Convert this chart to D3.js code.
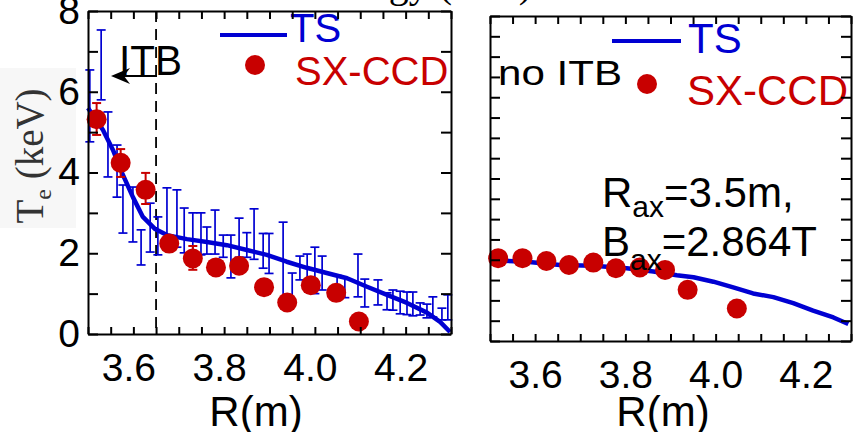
<!DOCTYPE html>
<html><head><meta charset="utf-8">
<script src="https://cdn.jsdelivr.net/npm/d3@7"></script>
<style>
html,body{margin:0;padding:0;background:#fff;}
svg{display:block;}
text{font-family:"Liberation Sans",Arial,sans-serif;}
</style></head>
<body><svg id="c" width="853" height="432"></svg>
<script>
// ---------- data ----------
const xTickLabels = [3.6, 3.8, 4.0, 4.2];
const leftYTickLabels = [0, 2, 4, 6, 8];

// left panel (ITB): TS profile
const leftTsR  = [3.500,3.533,3.555,3.575,3.599,3.621,3.648,3.674,3.718,3.762,3.806,3.850,3.894,3.938,3.982,4.026,4.071,4.115,4.159,4.203,4.247,4.276,4.298];
const leftTsTe = [5.60,5.05,4.56,3.99,3.39,2.90,2.60,2.45,2.35,2.28,2.20,2.08,1.96,1.79,1.64,1.51,1.38,1.17,0.97,0.77,0.53,0.30,0.05];
// left panel: TS error bars
const leftTsErrR  = [3.504,3.529,3.544,3.564,3.577,3.599,3.617,3.637,3.654,3.674,3.696,3.712,3.731,3.749,3.762,3.780,3.798,3.815,3.833,3.850,3.866,3.886,3.899,3.930,3.950,3.967,3.983,4.000,4.016,4.049,4.066,4.095,4.110,4.139,4.159,4.172,4.188,4.203,4.216,4.232,4.247,4.260,4.280,4.293];
const leftTsErrHi = [6.54,7.53,5.50,4.68,3.69,3.64,2.58,3.24,2.90,3.62,3.57,3.12,3.00,3.00,2.65,3.07,2.45,2.45,2.87,2.51,3.10,2.49,2.49,2.77,1.51,1.93,1.98,2.15,1.93,1.45,1.39,1.98,1.36,1.34,1.02,1.09,1.06,1.04,1.04,0.77,0.74,0.92,0.64,0.97];
const leftTsErrLo = [4.76,5.80,3.89,3.39,2.50,2.28,1.71,2.03,1.96,2.13,2.15,2.01,1.78,1.96,1.98,1.98,1.90,1.39,1.90,1.90,1.85,1.63,1.50,0.77,0.77,1.34,1.26,1.00,1.09,1.09,0.90,0.92,0.67,0.72,0.60,0.59,0.50,0.48,0.45,0.47,0.40,0.42,0.35,0.35];
// left panel: SX-CCD
const leftSxR  = [3.519,3.572,3.627,3.679,3.731,3.782,3.833,3.888,3.939,3.991,4.047,4.097];
const leftSxTe = [5.32,4.24,3.57,2.24,1.87,1.65,1.69,1.16,0.78,1.21,1.02,0.31];
const leftSxErrR  = [3.519,3.572,3.627,3.731];
const leftSxErrHi = [5.72,4.58,3.99,2.18];
const leftSxErrLo = [4.93,3.89,3.22,1.59];

// right panel (no ITB)
const rightTsR  = [3.500,3.581,3.655,3.729,3.803,3.862,3.914,3.951,3.995,4.039,4.083,4.128,4.172,4.216,4.261,4.294];
const rightTsTe = [1.99,1.95,1.87,1.85,1.79,1.71,1.62,1.57,1.46,1.32,1.17,1.08,0.93,0.75,0.58,0.42];
const rightSxR  = [3.518,3.572,3.625,3.675,3.729,3.779,3.832,3.888,3.938,4.047];
const rightSxTe = [2.04,2.04,1.97,1.87,1.93,1.79,1.81,1.75,1.26,0.80];

const BLUE = "#0000d2", RED = "#c80000";

// ---------- drawing ----------
const svg = d3.select("#c");
const minorX = d3.range(0, 17).map(i => +(3.5 + i * 0.05).toFixed(2));

// top cut-off title fragment
svg.append("text").attr("x", 532).attr("y", -3).attr("text-anchor", "end")
  .style("font-family", "'Liberation Serif','Times New Roman',serif").style("font-size", "40px")
  .text("Energy (keV)");

function panel(xs, ys, yMinor, yLabels, labelDx) {
  const [x0, x1] = xs.range(), [y0, y1] = ys.range();
  const g = svg.append("g");
  const style = s => s.selectAll("path,line").attr("stroke", "#000").attr("stroke-width", 2);
  g.append("g").attr("transform", `translate(0,${y0})`)
    .call(d3.axisBottom(xs).tickValues(minorX).tickSize(-7).tickSizeOuter(0).tickFormat("")).call(style);
  g.append("g").attr("transform", `translate(0,${y1})`)
    .call(d3.axisTop(xs).tickValues(minorX).tickSize(-8).tickSizeOuter(0).tickFormat("")).call(style);
  g.append("g").attr("transform", `translate(${x0},0)`)
    .call(d3.axisLeft(ys).tickValues(yMinor).tickSize(-10).tickSizeOuter(0).tickFormat("")).call(style);
  g.append("g").attr("transform", `translate(${x1},0)`)
    .call(d3.axisRight(ys).tickValues(yMinor).tickSize(-10).tickSizeOuter(0).tickFormat("")).call(style);
  // x labels
  const xl = g.append("g").attr("transform", `translate(0,${y0})`)
    .call(d3.axisBottom(xs).tickValues(xTickLabels).tickSize(0).tickPadding(19).tickFormat(d3.format(".1f")));
  xl.select(".domain").remove();
  xl.selectAll("text").style("font-size", "39px").attr("fill", "#000").attr("dx", labelDx)
    .style("font-family", "'Liberation Sans',Arial,sans-serif");
  if (yLabels) {
    const yl = g.append("g").attr("transform", `translate(${x0},0)`)
      .call(d3.axisLeft(ys).tickValues(yLabels).tickSize(0).tickPadding(8).tickFormat(d3.format("d")));
    yl.select(".domain").remove();
    yl.selectAll("text").style("font-size", "39px").attr("fill", "#000")
      .style("font-family", "'Liberation Sans',Arial,sans-serif");
  }
  return g;
}

// ---------- left panel ----------
const xL = d3.scaleLinear().domain([3.5, 4.3]).range([88, 451]);
const yL = d3.scaleLinear().domain([0, 8]).range([334, 11]);

// y-label background (faint)
svg.append("rect").attr("x", 0).attr("y", 68).attr("width", 76).attr("height", 160).attr("fill", "#f7f7f7");
const ylab = svg.append("text").attr("transform", "translate(43,156) rotate(-90)")
  .attr("text-anchor", "middle").attr("fill", "#333")
  .style("font-family", "'Liberation Serif','Times New Roman',serif").style("font-size", "39px");
ylab.append("tspan").text("T");
ylab.append("tspan").attr("dy", 8).style("font-size", "24px").text("e");
ylab.append("tspan").attr("dy", -8).text(" (keV)");

const gl = svg.append("g");
// ITB dashed boundary
gl.append("line").attr("x1", xL(3.65)).attr("x2", xL(3.65)).attr("y1", yL(8)).attr("y2", yL(0))
  .attr("stroke", "#000").attr("stroke-width", 1.8).attr("stroke-dasharray", "11,7");

// TS error bars
const tsErr = leftTsErrR.map((r, i) => ({ r, hi: leftTsErrHi[i], lo: leftTsErrLo[i] }));
function errBars(g, data, xs, ys, color, cap, w) {
  const e = g.append("g").attr("stroke", color).attr("stroke-width", w);
  e.selectAll(".v").data(data).join("line")
    .attr("x1", d => xs(d.r)).attr("x2", d => xs(d.r)).attr("y1", d => ys(d.hi)).attr("y2", d => ys(d.lo));
  e.selectAll(".t").data(data).join("line")
    .attr("x1", d => xs(d.r) - cap).attr("x2", d => xs(d.r) + cap).attr("y1", d => ys(d.hi)).attr("y2", d => ys(d.hi));
  e.selectAll(".b").data(data).join("line")
    .attr("x1", d => xs(d.r) - cap).attr("x2", d => xs(d.r) + cap).attr("y1", d => ys(d.lo)).attr("y2", d => ys(d.lo));
}
errBars(gl, tsErr, xL, yL, BLUE, 4.5, 1.7);

// TS line
const lineL = d3.line().x(d => xL(d[0])).y(d => yL(d[1])).curve(d3.curveLinear);
gl.append("path").datum(leftTsR.map((r, i) => [r, leftTsTe[i]])).attr("d", lineL)
  .attr("fill", "none").attr("stroke", BLUE).attr("stroke-width", 4.5).attr("stroke-linejoin", "round");

// SX-CCD error bars + points
errBars(gl, leftSxErrR.map((r, i) => ({ r, hi: leftSxErrHi[i], lo: leftSxErrLo[i] })), xL, yL, RED, 4.5, 2);
gl.selectAll("circle").data(leftSxR.map((r, i) => [r, leftSxTe[i]])).join("circle")
  .attr("cx", d => xL(d[0])).attr("cy", d => yL(d[1])).attr("r", 10).attr("fill", RED);

panel(xL, yL, d3.range(0, 9), leftYTickLabels, -5);

// left legend
gl.append("line").attr("x1", 220).attr("x2", 287).attr("y1", 35).attr("y2", 35).attr("stroke", BLUE).attr("stroke-width", 4);
gl.append("text").attr("x", 290).attr("y", 42).attr("fill", BLUE).style("font-size", "40px").text("TS");
gl.append("circle").attr("cx", 255).attr("cy", 65).attr("r", 10).attr("fill", RED);
gl.append("text").attr("x", 295).attr("y", 85).attr("fill", RED).style("font-size", "40px").text("SX-CCD");
// ITB annotation
gl.append("text").attr("x", 119).attr("y", 75).attr("fill", "#000").style("font-size", "42px")
  .attr("textLength", 63).attr("lengthAdjust", "spacingAndGlyphs").text("ITB");
gl.append("line").attr("x1", 157).attr("x2", 114).attr("y1", 76).attr("y2", 76).attr("stroke", "#000").attr("stroke-width", 2);
gl.append("path").attr("d", "M111,76 L130,68 L124,76 L130,84 Z").attr("fill", "#000");

// x title
svg.append("text").attr("x", 256).attr("y", 426).attr("text-anchor", "middle").style("font-size", "42px").text("R(m)");

// ---------- right panel ----------
const xR = d3.scaleLinear().domain([3.5, 4.3]).range([490, 851]);
const yR = d3.scaleLinear().domain([0, 8]).range([341, 16]);
const gr = svg.append("g");
const lineR = d3.line().x(d => xR(d[0])).y(d => yR(d[1]));
gr.append("path").datum(rightTsR.map((r, i) => [r, rightTsTe[i]])).attr("d", lineR)
  .attr("fill", "none").attr("stroke", BLUE).attr("stroke-width", 4.5).attr("stroke-linejoin", "round");
gr.selectAll("circle").data(rightSxR.map((r, i) => [r, rightSxTe[i]])).join("circle")
  .attr("cx", d => xR(d[0])).attr("cy", d => yR(d[1])).attr("r", 10).attr("fill", RED);

panel(xR, yR, d3.range(0, 17).map(i => i * 0.5), null, 0);

// right legend
gr.append("line").attr("x1", 612).attr("x2", 681).attr("y1", 41).attr("y2", 41).attr("stroke", BLUE).attr("stroke-width", 4);
gr.append("text").attr("x", 688).attr("y", 53).attr("fill", BLUE).style("font-size", "42px").text("TS");
gr.append("circle").attr("cx", 647).attr("cy", 84).attr("r", 10).attr("fill", RED);
gr.append("text").attr("x", 687).attr("y", 105).attr("fill", RED).style("font-size", "42px").text("SX-CCD");
gr.append("text").attr("x", 498).attr("y", 85).attr("fill", "#000").style("font-size", "35px")
  .attr("textLength", 124).attr("lengthAdjust", "spacingAndGlyphs").text("no ITB");

const t1 = gr.append("text").attr("x", 602).attr("y", 207).attr("fill", "#000").style("font-size", "42px");
t1.append("tspan").text("R");
t1.append("tspan").attr("dy", 10).style("font-size", "30px").text("ax");
t1.append("tspan").attr("dy", -10).text("=3.5m,");
const t2 = gr.append("text").attr("x", 602).attr("y", 256).attr("fill", "#000").style("font-size", "42px");
t2.append("tspan").text("B");
t2.append("tspan").attr("dy", 14).style("font-size", "30px").text("ax");
t2.append("tspan").attr("dy", -14).text("=2.864T");

svg.append("text").attr("x", 663).attr("y", 426).attr("text-anchor", "middle").style("font-size", "42px").text("R(m)");
</script></body></html>
